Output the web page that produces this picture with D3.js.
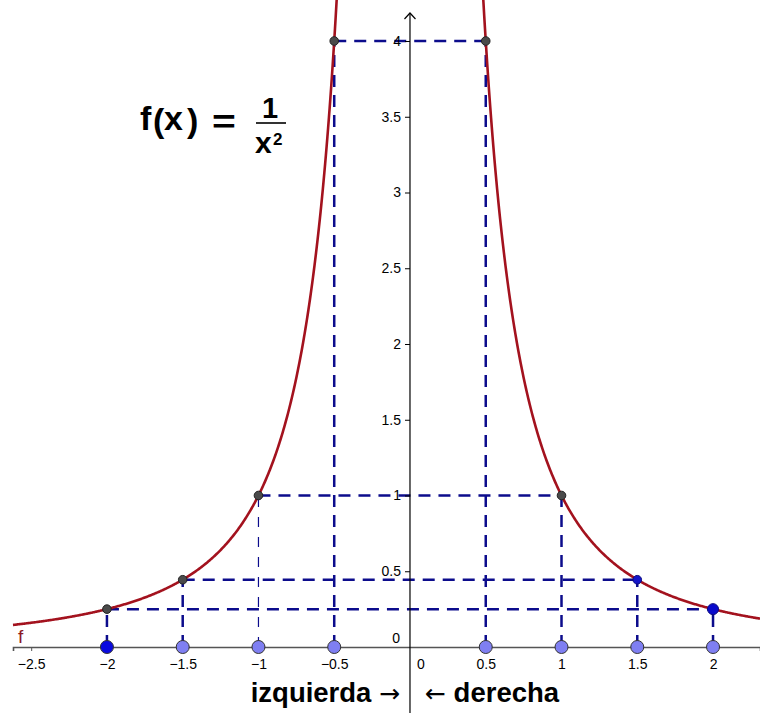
<!DOCTYPE html>
<meta charset="utf-8">
<head>
  <title>f(x) = 1/x²</title>
</head>
<style>
  body { margin: 0; background: #fff; }
  text { font-family: "Liberation Sans", Arial, sans-serif; }
  .lbl { font-size: 14px; fill: #000; }
  .arrow { font-family: "DejaVu Sans", sans-serif; font-weight: normal; }
</style>
<body>
<div id="chart"></div>
<script src="https://d3js.org/d3.v7.min.js"></script>
<script>

var xTickValues = [-2.5, -2, -1.5, -1, -0.5, 0.5, 1, 1.5, 2];
var yTickValues = [0.5, 1, 1.5, 2, 2.5, 3, 3.5, 4];
var pointX = [-2, -1.5, -1, -0.5, 0.5, 1, 1.5, 2];
var pointY = [0.25, 0.444, 1, 4, 4, 1, 0.444, 0.25];
var curveDomains = [[-2.62, -0.45], [0.45, 2.31]];

// the plotted function, f(x) = 1/x^2
function f(x) { return 1 / (x * x); }

var width = 760, height = 713;

var x = d3.scaleLinear().domain([-2.62, 2.31]).range([13, 760]);
var y = d3.scaleLinear().domain([0, 4]).range([647, 41]);

var svg = d3.select("#chart").append("svg")
  .attr("width", width)
  .attr("height", height);

svg.append("clipPath").attr("id", "clip")
  .append("rect").attr("x", 0).attr("y", 0).attr("width", width).attr("height", height);

var points = pointX.map(function(d, i) { return { x: d, y: pointY[i] }; });

// dashed guides
var guides = svg.append("g")
  .attr("fill", "none")
  .attr("stroke", "#0c0c8c");

guides.selectAll(".v")
  .data(points)
  .enter().append("line")
  .attr("x1", function(d) { return x(d.x); })
  .attr("x2", function(d) { return x(d.x); })
  .attr("y1", y(0))
  .attr("y2", function(d) { return y(d.y); })
  .attr("stroke-width", function(d) { return d.x === -1 ? 1.2 : 2.5; })
  .attr("stroke-dasharray", function(d) { return d.x === -1 ? "10,10" : "12,8"; });

guides.selectAll(".h")
  .data(points.filter(function(d) { return d.x < 0; }))
  .enter().append("line")
  .attr("x1", function(d) { return x(d.x); })
  .attr("x2", function(d) { return x(-d.x); })
  .attr("y1", function(d) { return y(d.y); })
  .attr("y2", function(d) { return y(d.y); })
  .attr("stroke-width", 2.5)
  .attr("stroke-dasharray", "12,8");

// curve
var line = d3.line()
  .x(function(d) { return x(d); })
  .y(function(d) { return y(f(d)); });

svg.append("g").attr("clip-path", "url(#clip)")
  .selectAll("path")
  .data(curveDomains.map(function(dom) { return d3.range(dom[0], dom[1] + 0.001, 0.005); }))
  .enter().append("path")
  .attr("d", line)
  .attr("fill", "none")
  .attr("stroke", "#a3121e")
  .attr("stroke-width", 2.6);

// x axis
var xAxis = d3.axisBottom(x)
  .tickValues(xTickValues)
  .tickSize(4)
  .tickFormat(function(d) { return d3.format("")(d).replace("-", "\u2212"); });

var gx = svg.append("g")
  .attr("transform", "translate(0," + y(0) + ")")
  .call(xAxis);
gx.attr("font-family", null).attr("font-size", null);
gx.select(".domain").attr("stroke", "#555").attr("stroke-width", 1.6);
gx.selectAll(".tick line").attr("stroke", "#555");
gx.selectAll(".tick text")
  .attr("class", "lbl")
  .attr("dy", null)
  .attr("y", 22);

// y axis
var yAxis = d3.axisLeft(y)
  .tickValues(yTickValues)
  .tickSize(5)
  .tickFormat(d3.format(""));

var gy = svg.append("g")
  .attr("transform", "translate(" + x(0) + ",0)")
  .call(yAxis);
gy.attr("font-family", null).attr("font-size", null);
gy.select(".domain").remove();
gy.selectAll(".tick line").attr("stroke", "#000");
gy.selectAll(".tick text")
  .attr("class", "lbl")
  .attr("x", -9);

svg.append("line")
  .attr("x1", x(0)).attr("x2", x(0))
  .attr("y1", 13).attr("y2", height)
  .attr("stroke", "#000").attr("stroke-width", 1.2);
svg.append("path")
  .attr("d", "M" + (x(0) - 5.5) + ",19L" + x(0) + ",13L" + (x(0) + 5.5) + ",19")
  .attr("fill", "none").attr("stroke", "#000").attr("stroke-width", 1.2);

// zero labels
svg.append("text").attr("class", "lbl")
  .attr("x", x(0) - 10).attr("y", y(0) - 4)
  .attr("text-anchor", "end").text("0");
svg.append("text").attr("class", "lbl")
  .attr("x", x(0) + 11).attr("y", y(0) + 22)
  .attr("text-anchor", "middle").text("0");

// points on the x axis
svg.selectAll(".ax")
  .data(points)
  .enter().append("circle")
  .attr("cx", function(d) { return x(d.x); })
  .attr("cy", y(0))
  .attr("r", 6.5)
  .attr("fill", function(d) { return d.x === -2 ? "#0a0adf" : "#7f7ff2"; })
  .attr("stroke", "#333")
  .attr("stroke-width", 1);

// points on the curve
svg.selectAll(".cp")
  .data(points)
  .enter().append("circle")
  .attr("cx", function(d) { return x(d.x); })
  .attr("cy", function(d) { return y(d.y); })
  .attr("r", function(d) { return d.x === 2 ? 5.5 : 4.3; })
  .attr("fill", function(d) {
    if (d.x === 2) return "#0a0acc";
    if (d.x === 1.5) return "#1515c8";
    return "#4a4a4a";
  })
  .attr("stroke", function(d) { return d.x > 1 ? "#0a0a80" : "#222"; })
  .attr("stroke-width", 1);

// curve name
svg.append("text")
  .attr("x", 18).attr("y", 643)
  .attr("fill", "#8b1a22")
  .style("font-size", "19px")
  .text("f");

// formula
var fm = svg.append("g")
  .attr("font-weight", "bold")
  .attr("fill", "#000")
  .style("font-size", "34px");
fm.append("text").attr("x", 140).attr("y", 130).text("f");
fm.append("text").attr("x", 153).attr("y", 132).text("(");
fm.append("text").attr("x", 164).attr("y", 130).text("x");
fm.append("text").attr("x", 187).attr("y", 132).text(")");
fm.append("text").attr("x", 212).attr("y", 133)
  .attr("transform", "translate(212,0) scale(1.2,1) translate(-212,0)").text("=");
fm.append("text").attr("x", 270).attr("y", 118).attr("text-anchor", "middle")
  .style("font-size", "29px").text("1");
fm.append("line")
  .attr("x1", 256).attr("x2", 286).attr("y1", 123).attr("y2", 123)
  .attr("stroke", "#000").attr("stroke-width", 1.6);
fm.append("text").attr("x", 255).attr("y", 153).style("font-size", "30px").text("x");
fm.append("text").attr("x", 273).attr("y", 145).style("font-size", "17px").text("2");

// direction labels
var left = svg.append("text")
  .attr("x", 400).attr("y", 702)
  .attr("text-anchor", "end")
  .attr("font-weight", "bold")
  .style("font-size", "27.5px");
left.append("tspan").text("izquierda ");
left.append("tspan").attr("class", "arrow").style("font-size", "25px").text("\u2192");

var right = svg.append("text")
  .attr("x", 425).attr("y", 702)
  .attr("font-weight", "bold")
  .style("font-size", "27.5px");
right.append("tspan").attr("class", "arrow").style("font-size", "25px").text("\u2190");
right.append("tspan").text(" derecha");

</script>
</body>
